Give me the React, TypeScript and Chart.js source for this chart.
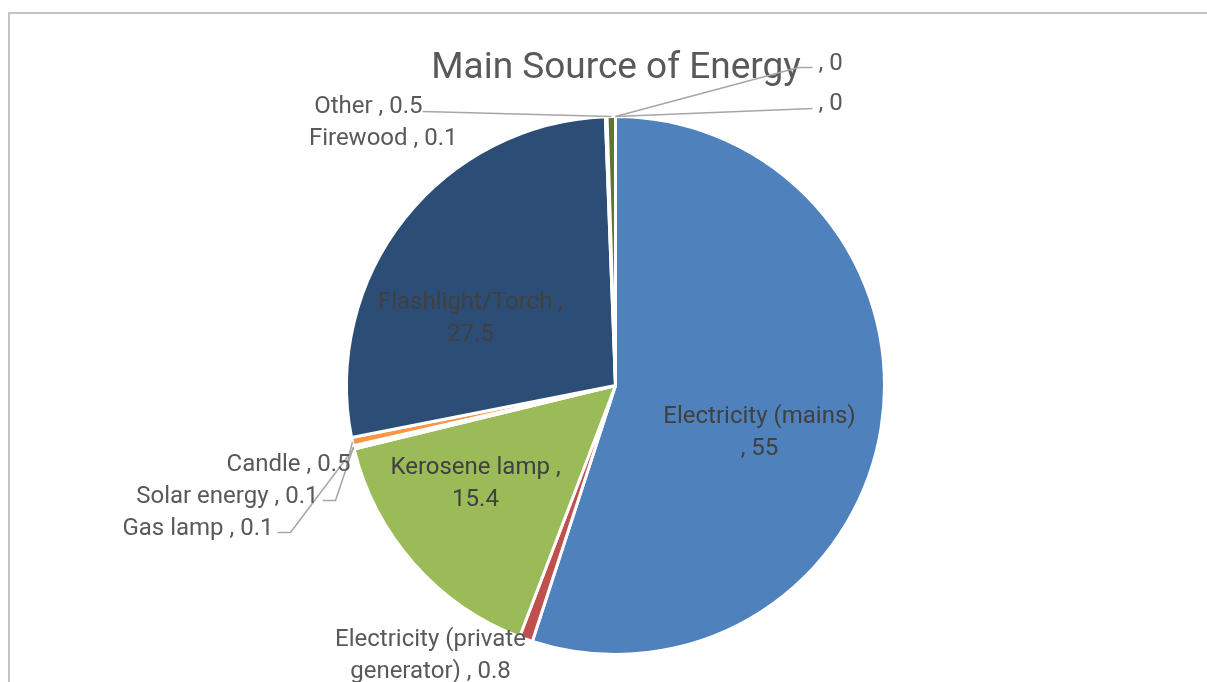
import React, { useEffect, useRef } from "react";
import { Chart, registerables } from "chart.js";

Chart.register(...registerables);

// ---- data ----
const TITLE = "Main Source of Energy";
const categories = [
  "Electricity (mains)",
  "Electricity (private generator)",
  "Kerosene lamp",
  "Gas lamp",
  "Solar energy",
  "Candle",
  "Flashlight/Torch",
  "Firewood",
  "Other",
  "",
  "",
];
const values = [55, 0.8, 15.4, 0.1, 0.1, 0.5, 27.5, 0.1, 0.5, 0, 0];
const sliceColors = [
  "#4F81BD",
  "#C0504D",
  "#9BBB59",
  "#8064A2",
  "#4BACC6",
  "#F79646",
  "#2C4D75",
  "#772C2A",
  "#5F7530",
  "#4D3B62",
  "#276A7C",
];

// ---- label layout (offsets in px from pie centre) ----
type LabelSpec = {
  i: number;
  lines: string[];
  dx: number;
  dy: number;
  align: CanvasTextAlign;
  inside?: boolean;
  leader?: [number, number][];
};

const fmt = (i: number) => (categories[i] ? `${categories[i]} , ${values[i]}` : `, ${values[i]}`);

const labelLayout: LabelSpec[] = [
  { i: 0, lines: ["Electricity (mains)", `, ${values[0]}`], dx: 144, dy: 47, align: "center", inside: true },
  { i: 1, lines: ["Electricity (private", `generator) , ${values[1]}`], dx: -185, dy: 270, align: "center" },
  { i: 2, lines: ["Kerosene lamp ,", `${values[2]}`], dx: -140, dy: 98, align: "center", inside: true },
  { i: 3, lines: [fmt(3)], dx: -342, dy: 143, align: "right", leader: [[-338, 147], [-325, 147]] },
  { i: 4, lines: [fmt(4)], dx: -297, dy: 111, align: "right", leader: [[-293, 115], [-280, 115]] },
  { i: 5, lines: [fmt(5)], dx: -265, dy: 79, align: "right", leader: [[-269, 81]] },
  { i: 6, lines: ["Flashlight/Torch ,", `${values[6]}`], dx: -145, dy: -67, align: "center", inside: true },
  { i: 7, lines: [fmt(7)], dx: -158, dy: -247, align: "right" },
  { i: 8, lines: [fmt(8)], dx: -193, dy: -279, align: "right", leader: [[-193, -274]] },
  { i: 9, lines: [fmt(9)], dx: 203, dy: -322, align: "left", leader: [[197, -318], [183, -318]] },
  { i: 10, lines: [fmt(10)], dx: 203, dy: -282, align: "left", leader: [[197, -277]] },
];

const FONT = "Roboto, 'Noto Sans', sans-serif";

const labelPlugin = {
  id: "excelLabels",
  beforeDraw(chart: any) {
    const ctx = chart.ctx as CanvasRenderingContext2D;
    ctx.save();
    ctx.fillStyle = "#ffffff";
    ctx.fillRect(0, 0, chart.width, chart.height);
    ctx.strokeStyle = "#c4c4c4";
    ctx.lineWidth = 2;
    ctx.beginPath();
    ctx.moveTo(9, chart.height + 5);
    ctx.lineTo(9, 13);
    ctx.lineTo(chart.width + 5, 13);
    ctx.stroke();
    ctx.restore();
  },
  afterDraw(chart: any) {
    const ctx = chart.ctx as CanvasRenderingContext2D;
    const meta = chart.getDatasetMeta(0);
    const first = meta.data[0];
    const cx = first.x;
    const cy = first.y;
    ctx.save();

    // title
    ctx.fillStyle = "#595959";
    ctx.font = `37px ${FONT}`;
    ctx.textAlign = "center";
    ctx.textBaseline = "middle";
    ctx.fillText(TITLE, 616, 69);

    // leader lines
    ctx.strokeStyle = "#a6a6a6";
    ctx.lineWidth = 1.5;
    for (const spec of labelLayout) {
      if (!spec.leader) continue;
      const arc = meta.data[spec.i];
      const mid = (arc.startAngle + arc.endAngle) / 2;
      const r = arc.outerRadius;
      const ex = arc.x + Math.cos(mid) * r;
      const ey = arc.y + Math.sin(mid) * r;
      ctx.beginPath();
      spec.leader.forEach(([px, py], k) => {
        if (k === 0) ctx.moveTo(cx + px, cy + py);
        else ctx.lineTo(cx + px, cy + py);
      });
      ctx.lineTo(ex, ey);
      ctx.stroke();
    }

    // labels
    ctx.font = `24px ${FONT}`;
    ctx.textBaseline = "middle";
    const lh = 32;
    for (const spec of labelLayout) {
      ctx.fillStyle = spec.inside ? "#404040" : "#595959";
      ctx.textAlign = spec.align;
      const n = spec.lines.length;
      spec.lines.forEach((line, k) => {
        const y = cy + spec.dy + (k - (n - 1) / 2) * lh;
        ctx.fillText(line, cx + spec.dx, y);
      });
    }
    ctx.restore();
  },
};

export default function App() {
  const ref = useRef<HTMLCanvasElement | null>(null);
  useEffect(() => {
    if (!ref.current) return;
    const chart = new Chart(ref.current, {
      type: "pie",
      data: {
        labels: categories,
        datasets: [
          {
            data: values,
            backgroundColor: sliceColors,
            borderColor: "#ffffff",
            borderWidth: 3,
            hoverOffset: 0,
          },
        ],
      },
      options: {
        animation: false,
        responsive: true,
        maintainAspectRatio: false,
        layout: { padding: { left: 345, right: 321, top: 115, bottom: 26 } },
        plugins: {
          legend: { display: false },
          title: { display: false },
          tooltip: { enabled: false },
        },
      },
      plugins: [labelPlugin],
    });
    return () => chart.destroy();
  }, []);
  return (
    <div style={{ position: "fixed", left: 0, top: 0, width: 1207, height: 682, background: "#fff" }}>
      <canvas ref={ref} />
    </div>
  );
}
